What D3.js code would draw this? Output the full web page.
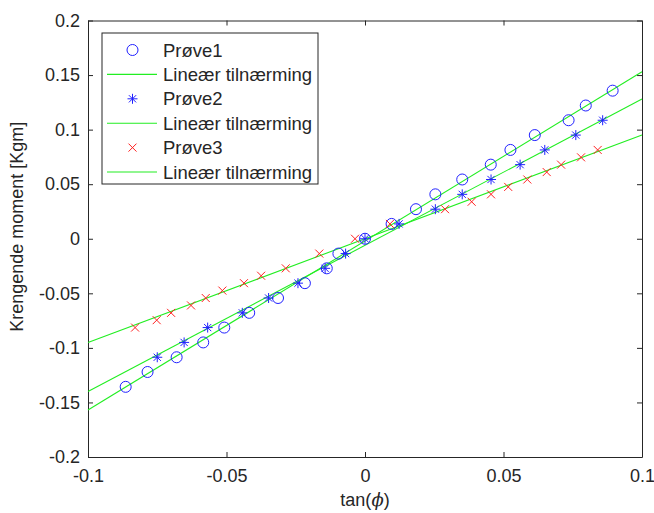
<!DOCTYPE html>
<html>
<head>
<meta charset="utf-8">
<script src="https://cdn.jsdelivr.net/npm/d3@7"></script>
<style>
  body { margin: 0; background: #fff; }
  text { font-family: "Liberation Sans", Arial, sans-serif; fill: #262626; }
</style>
</head>
<body>
<div id="chart"></div>
<script>
// Prøve1 (circles)
const x1 = [-0.0864, -0.0785, -0.0680, -0.0584, -0.0508, -0.0418, -0.0314, -0.0217, -0.0138, -0.0096, 0.0,
            0.0096, 0.0184, 0.0254, 0.0351, 0.0454, 0.0525, 0.0613, 0.0735, 0.0797, 0.0894];
const y1 = [-0.1357, -0.1221, -0.1086, -0.0950, -0.0814, -0.0679, -0.0543, -0.0407, -0.0271, -0.0136, 0.0,
            0.0136, 0.0271, 0.0407, 0.0543, 0.0679, 0.0814, 0.0950, 0.1086, 0.1221, 0.1357];
// Prøve2 (stars)
const x2 = [-0.0750, -0.0653, -0.0568, -0.0443, -0.0348, -0.0242, -0.0144, -0.0070, 0.0,
            0.0123, 0.0254, 0.0351, 0.0455, 0.0560, 0.0649, 0.0761, 0.0858];
const y2 = [-0.1086, -0.0950, -0.0814, -0.0679, -0.0543, -0.0407, -0.0271, -0.0136, 0.0,
            0.0136, 0.0271, 0.0407, 0.0543, 0.0679, 0.0814, 0.0950, 0.1086];
// Prøve3 (crosses)
const x3 = [-0.0830, -0.0752, -0.0700, -0.0628, -0.0575, -0.0515, -0.0437, -0.0375, -0.0286, -0.0165, -0.0036,
            0.0090, 0.0289, 0.0385, 0.0455, 0.0517, 0.0586, 0.0656, 0.0708, 0.0780, 0.0840];
const y3 = [-0.0814, -0.0746, -0.0679, -0.0611, -0.0543, -0.0475, -0.0407, -0.0339, -0.0271, -0.0136, 0.0,
            0.0136, 0.0271, 0.0339, 0.0407, 0.0475, 0.0543, 0.0611, 0.0679, 0.0746, 0.0814];

// linear fits (slope, intercept)
const fitSlope = [1.55, 1.34, 0.951];
const fitIntercept = [-0.002, -0.006, 0.0];

const xTicks = [-0.1, -0.05, 0, 0.05, 0.1];
const yTicks = [-0.2, -0.15, -0.1, -0.05, 0, 0.05, 0.1, 0.15, 0.2];
const legendLabels = ["Prøve1", "Lineær tilnærming", "Prøve2", "Lineær tilnærming", "Prøve3", "Lineær tilnærming"];

const width = 654, height = 513;
const margin = { top: 20.5, left: 88, bottom: 56, right: 12 };
const iwidth = width - margin.left - margin.right;
const iheight = height - margin.top - margin.bottom;

const svg = d3.select("#chart").append("svg")
    .attr("width", width).attr("height", height)
    .append("g").attr("transform", `translate(${margin.left},${margin.top})`);

const x = d3.scaleLinear().domain([-0.1, 0.1]).range([0, iwidth]);
const y = d3.scaleLinear().domain([-0.2, 0.2]).range([iheight, 0]);

const fmt = d => String(d);
const axisColor = "#262626";

// axes with inward ticks (box style)
function styleAxis(g) {
    g.select(".domain").attr("stroke", axisColor);
    g.selectAll(".tick line").attr("stroke", axisColor);
    g.selectAll(".tick text").style("font-size", "18px").attr("fill", axisColor);
}
svg.append("g").attr("transform", `translate(0,${iheight})`)
    .call(d3.axisBottom(x).tickValues(xTicks).tickFormat(fmt).tickSizeInner(-5).tickSizeOuter(0).tickPadding(12))
    .call(styleAxis);
svg.append("g")
    .call(d3.axisLeft(y).tickValues(yTicks).tickFormat(fmt).tickSizeInner(-5).tickSizeOuter(0).tickPadding(8))
    .call(styleAxis);
svg.append("g")
    .call(d3.axisTop(x).tickValues(xTicks).tickFormat("").tickSizeInner(-5).tickSizeOuter(0))
    .call(styleAxis);
svg.append("g").attr("transform", `translate(${iwidth},0)`)
    .call(d3.axisRight(y).tickValues(yTicks).tickFormat("").tickSizeInner(-5).tickSizeOuter(0))
    .call(styleAxis);

const lineColor = "#22ee22";
const blue = "#2020ff";
const red = "#ff2020";

const starPath = r => {
    const d = r * 0.72;
    return `M${-r},0L${r},0M0,${-r}L0,${r}M${-d},${-d}L${d},${d}M${-d},${d}L${d},${-d}`;
};
const crossPath = r => `M${-r},${-r}L${r},${r}M${-r},${r}L${r},${-r}`;

// fit lines
const plot = svg.append("g");
fitSlope.forEach((m, i) => {
    const ends = x.domain().map(v => [v, m * v + fitIntercept[i]]);
    plot.append("path")
        .attr("d", d3.line().x(d => x(d[0])).y(d => y(d[1]))(ends))
        .attr("fill", "none").attr("stroke", lineColor).attr("stroke-width", 1.1);
});

// markers
plot.selectAll(".p1").data(d3.zip(x1, y1)).enter().append("circle")
    .attr("cx", d => x(d[0])).attr("cy", d => y(d[1])).attr("r", 5.5)
    .attr("fill", "none").attr("stroke", blue).attr("stroke-width", 1);
plot.selectAll(".p2").data(d3.zip(x2, y2)).enter().append("path")
    .attr("transform", d => `translate(${x(d[0])},${y(d[1])})`)
    .attr("d", starPath(5)).attr("fill", "none").attr("stroke", blue).attr("stroke-width", 1);
plot.selectAll(".p3").data(d3.zip(x3, y3)).enter().append("path")
    .attr("transform", d => `translate(${x(d[0])},${y(d[1])})`)
    .attr("d", crossPath(4)).attr("fill", "none").attr("stroke", red).attr("stroke-width", 1);

// legend
const legend = svg.append("g").attr("transform", `translate(${102 - margin.left},${33 - margin.top})`);
legend.append("rect").attr("width", 216).attr("height", 151)
    .attr("fill", "#fff").attr("stroke", axisColor).attr("stroke-width", 1);
legendLabels.forEach((label, i) => {
    const cy = 17 + i * 24.4;
    const row = legend.append("g").attr("transform", `translate(0,${cy})`);
    if (i % 2 === 1) {
        row.append("line").attr("x1", 5).attr("x2", 55).attr("y1", 0).attr("y2", 0)
            .attr("stroke", lineColor).attr("stroke-width", 1.1);
    } else if (i === 0) {
        row.append("circle").attr("cx", 30.5).attr("cy", 0).attr("r", 5.5)
            .attr("fill", "none").attr("stroke", blue);
    } else if (i === 2) {
        row.append("path").attr("transform", "translate(30.5,0)").attr("d", starPath(5))
            .attr("fill", "none").attr("stroke", blue);
    } else {
        row.append("path").attr("transform", "translate(30.5,0)").attr("d", crossPath(4))
            .attr("fill", "none").attr("stroke", red);
    }
    row.append("text").attr("x", 61).attr("y", 6.5).style("font-size", "18.5px").text(label);
});

// axis labels
svg.append("text")
    .attr("x", iwidth / 2).attr("y", iheight + 49)
    .attr("text-anchor", "middle").style("font-size", "18px")
    .call(t => {
        t.append("tspan").text("tan(");
        t.append("tspan").style("font-style", "italic").style("font-family", "DejaVu Serif").text("ϕ");
        t.append("tspan").text(")");
    });
svg.append("text")
    .attr("transform", `translate(${-65},${iheight / 2 - 12}) rotate(-90)`)
    .attr("text-anchor", "middle").style("font-size", "18px")
    .text("Krengende moment [Kgm]");
</script>
</body>
</html>
